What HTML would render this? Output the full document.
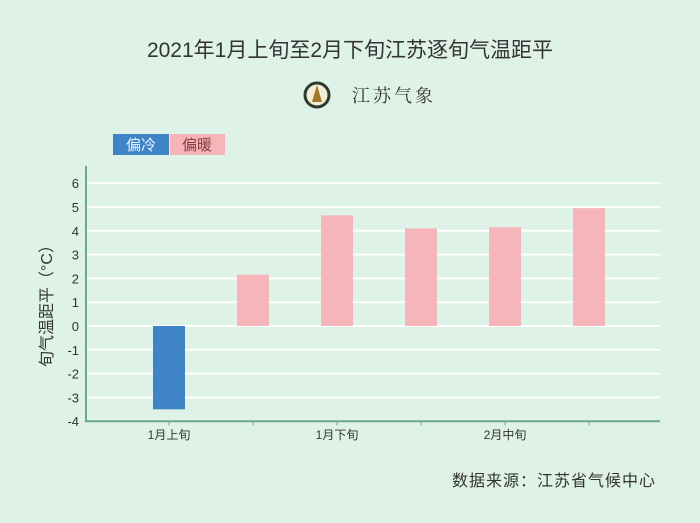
<!DOCTYPE html>
<html><head><meta charset="utf-8"><style>
body{margin:0;width:700px;height:518px;background:#dff2e7;overflow:hidden;font-family:"Liberation Sans","Noto Sans CJK SC",sans-serif}
</style></head><body>
<svg width="700" height="518" xmlns="http://www.w3.org/2000/svg">
<rect width="700" height="518" fill="#dff2e7"/>
<text x="350" y="57" text-anchor="middle" font-size="21" fill="#333" font-family="Liberation Sans,Noto Sans CJK SC,sans-serif">2021年1月上旬至2月下旬江苏逐旬气温距平</text>
<g>
<circle cx="317" cy="95" r="12" fill="#f3ecd6" stroke="#2d3b2d" stroke-width="3"/>
<path d="M317 85 L322 102 L312 102 Z" fill="#a07a2a"/>
<text x="352" y="102" font-size="18" fill="#333" font-family="Noto Serif CJK SC,serif" letter-spacing="3">江苏气象</text>
</g>
<g>
<rect x="113" y="134" width="56" height="21" fill="#3f84c6"/>
<text x="141" y="150" text-anchor="middle" font-size="15" fill="#e8f2ff">偏冷</text>
<rect x="170" y="134" width="55" height="21" fill="#f6b6b9"/>
<text x="197" y="150" text-anchor="middle" font-size="15" fill="#8a3a40">偏暖</text>
</g>
<g id="grid"></g><g id="bars"></g><g id="axes"></g>
<text transform="translate(52,302) rotate(-90)" text-anchor="middle" font-size="16" fill="#333">旬气温距平（°C）</text>
<text x="656" y="486" text-anchor="end" font-size="16" fill="#333" letter-spacing="1">数据来源：江苏省气候中心</text>
</svg>
<script>
const categories=["1月上旬","1月中旬","1月下旬","2月上旬","2月中旬","2月下旬"];
const values=[-3.5,2.15,4.65,4.1,4.15,4.95];
const shownLabels=["1月上旬","","1月下旬","","2月中旬",""];
const yTicks=[-4,-3,-2,-1,0,1,2,3,4,5,6];
const NS="http://www.w3.org/2000/svg";
const x0=86,x1=660,y0=326,unit=23.8,step=84,first=169,bw=32;
const y=v=>y0-v*unit;
const xc=i=>first+i*step;
function mk(t,a,p){const e=document.createElementNS(NS,t);for(const k in a)e.setAttribute(k,a[k]);document.getElementById(p).appendChild(e);return e;}
yTicks.forEach(v=>{
  if(v>-4){const l=mk('line',{x1:x0,x2:x1,y1:y(v),y2:y(v),stroke:'#ffffff','stroke-width':2},'grid');
  
  }
  const t=mk('text',{x:79,y:y(v)+5,'text-anchor':'end','font-size':13,fill:'#333'},'axes');
  t.textContent=v;
  
  
});
values.forEach((v,i)=>{
  const r=mk('rect',{x:xc(i)-bw/2,y:Math.min(y(v),y0),width:bw,height:Math.abs(y(v)-y0),fill:v<0?'#3f84c6':'#f6b6b9'},'bars');
  
  
  const tk=mk('line',{x1:xc(i),x2:xc(i),y1:y(-4),y2:y(-4)+4,stroke:'#6aa88a'},'axes');
  
  
  if(shownLabels[i]){const t=mk('text',{x:xc(i),y:y(-4)+18,'text-anchor':'middle','font-size':12,fill:'#333'},'axes');
  t.textContent=shownLabels[i];
  
  }
});
const ax=mk('path',{d:`M${x0} 166 V${y(-4)} H${x1}`,fill:'none',stroke:'#6aa88a','stroke-width':2},'axes');


</script>
</body></html>
